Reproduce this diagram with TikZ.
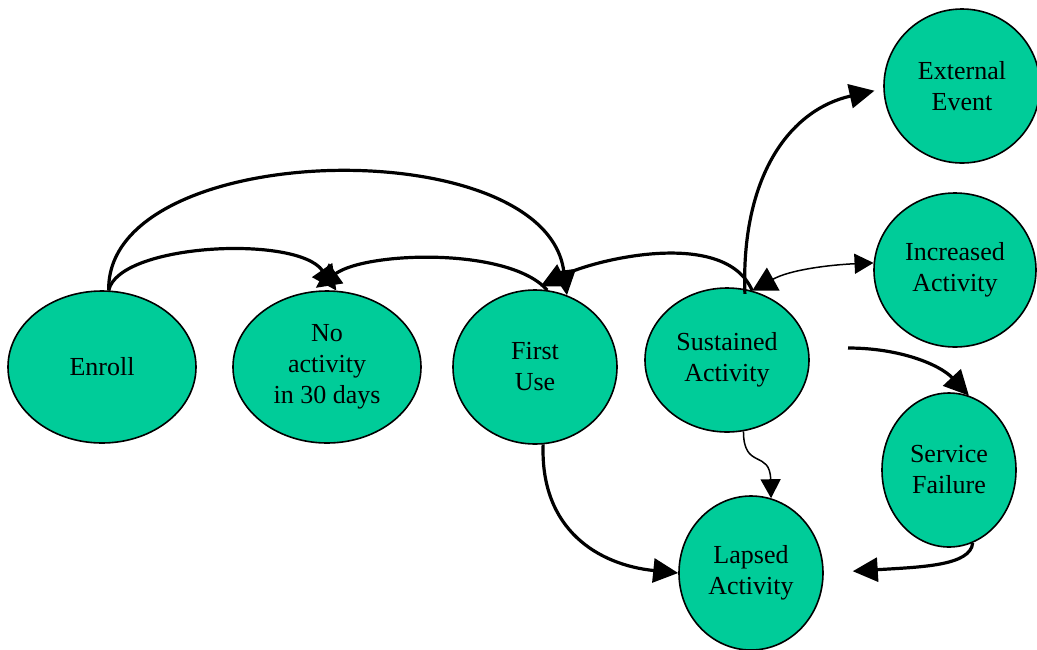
\documentclass[tikz,border=0pt]{standalone}
\usepackage{fontspec}
\setmainfont{Liberation Serif}
\usetikzlibrary{arrows.meta,shapes.geometric}
\definecolor{stategreen}{RGB}{0,204,153}
\begin{document}
\begin{tikzpicture}[x=1pt,y=-1pt,
  state/.style={ellipse, draw=black, line width=1.6pt, fill=stategreen, inner sep=0pt, align=center, font=\fontsize{26}{31}\selectfont},
  thickarrow/.style={line width=3.2pt, -{Triangle[length=25pt,width=24pt]}},
  thinarrow/.style={line width=1.5pt, -{Triangle[length=19pt,width=20pt]}},
  boththin/.style={line width=1.5pt, {Triangle[length=24pt,width=26pt]}-{Triangle[length=19pt,width=20pt]}},
]
\useasboundingbox (0,0) rectangle (1037,649);

\node[state, minimum width=188pt, minimum height=152pt] (enroll) at (102,367) {Enroll};
\node[state, minimum width=188pt, minimum height=152pt] (noact) at (327,367) {No\\activity\\in 30 days};
\node[state, minimum width=164pt, minimum height=154pt] (first) at (535,367) {First\\Use};
\node[state, minimum width=164pt, minimum height=144pt] (sust) at (727,360) {Sustained\\Activity};
\node[state, minimum width=156pt, minimum height=154pt] (ext) at (962,86) {External\\Event};
\node[state, minimum width=162pt, minimum height=154pt] (inc) at (955,270) {Increased\\Activity};
\node[state, minimum width=134pt, minimum height=154pt] (fail) at (949,470) {Service\\Failure};
\node[state, minimum width=144pt, minimum height=154pt] (lapsed) at (751,573) {Lapsed\\Activity};

\coordinate (failstart) at (848,348);

\draw[thickarrow] (enroll.85) .. controls +(-3,-152) and +(-22,-166) .. (first.66);
\draw[thickarrow] (enroll.85) .. controls +(10,-47) and +(-39,-56) .. (noact.83);
\draw[thickarrow, shorten >=6pt] (first.81) .. controls +(-38,-43) and +(56,-40) .. (noact.102);
\draw[thickarrow, shorten >=6pt] (sust.70) .. controls +(-27,-63) and +(60,-30) .. (first.north);
\draw[boththin] (sust.70) .. controls +(38,-21) and +(-44,2) .. (inc.175);
\draw[thickarrow, shorten <=-5pt, shorten >=9pt] (sust.76) .. controls +(-4,-112) and +(-94,21) .. (ext.182);
\draw[thickarrow] (failstart) .. controls +(52,0) and +(-29,-31) .. (fail.75);
\draw[thickarrow, shorten >=29pt] (fail.288) .. controls +(-2,23) and +(97,-6) .. (lapsed.east);
\draw[thickarrow] (first.276) .. controls +(-3,86) and +(-79,-8) .. (lapsed.west);
\draw[thinarrow] (sust.283) .. controls +(0,39) and +(-1,-49) .. (lapsed.75);
\end{tikzpicture}
\end{document}
